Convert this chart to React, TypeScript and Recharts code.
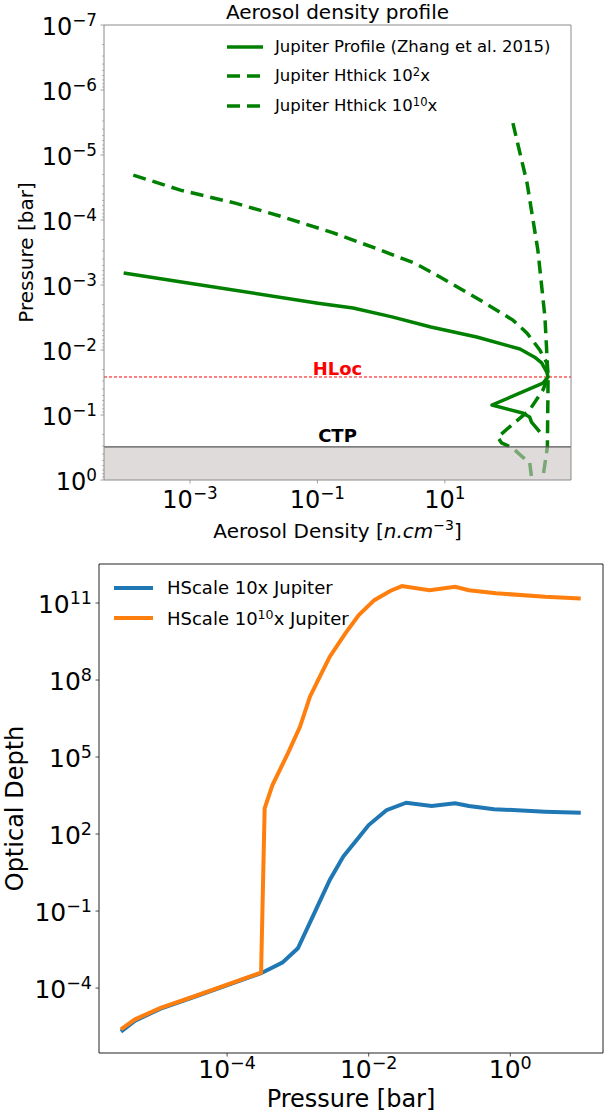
import React from 'react';
import { LineChart, Line, XAxis, YAxis, ReferenceLine, ReferenceArea, Legend } from 'recharts';

const FONT = '"DejaVu Sans", Verdana, sans-serif';
const GREEN = '#008000';
const BLUE = '#1f77b4';
const ORANGE = '#ff7f0e';
const TOP_FRAME = '#8a8a8a';
const BOT_FRAME = '#222222';

// ---------- Top chart: Aerosol density profile ----------
const jupiterDensity = [9.1e-5, 9.3e-4, 0.102, 0.363, 1.48, 6.03, 31.6, 151, 257, 331, 398, 417, 347, 55, 166, 214, 229, 309];
const jupiterPressure = [6.53e-4, 9.3e-4, 1.91e-3, 2.26e-3, 3.09e-3, 4.43e-3, 6.31e-3, 9.66e-3, 0.0129, 0.0158, 0.0219, 0.026, 0.0324, 0.0702, 0.0933, 0.107, 0.129, 0.182];

const hthick2Density = [1.29e-4, 7.08e-4, 5.13e-3, 0.0282, 0.178, 0.841, 3.47, 8.13, 35.5, 117, 195, 309, 398, 417, 347, 214, 112, 67.6, 77.6, 117, 166, 214, 229];
const hthick2Pressure = [2.04e-5, 3.47e-5, 5.5e-5, 8.91e-5, 1.58e-4, 2.75e-4, 4.68e-4, 7.41e-4, 1.7e-3, 3.47e-3, 5.5e-3, 0.01, 0.0158, 0.026, 0.0412, 0.0838, 0.143, 0.219, 0.269, 0.324, 0.443, 0.528, 0.9];

const hthick10Density = [117, 195, 288, 372, 417, 407, 347];
const hthick10Pressure = [3.24e-6, 2.69e-5, 2.88e-4, 3.09e-3, 0.026, 0.309, 0.9];

const HLOC_PRESSURE = 0.026;
const CTP_PRESSURE = 0.31;

const topXTicks = [1e-3, 1e-1, 1e1];
const topXDomain = [4.47e-5, 955];
const topYDomain = [1e-7, 1];

const topLegendLabels = ['Jupiter Profile (Zhang et al. 2015)', 'Jupiter Hthick 10', 'Jupiter Hthick 10'];
const topLegendSups = ['', '2', '10'];
const topLegendSuffix = ['', 'x', 'x'];
const topLegendDash = ['', '13 7', '13 7'];

// ---------- Bottom chart: Optical depth ----------
const pressureBlue = [3.16e-6, 5.01e-6, 1.15e-5, 3.63e-5, 3.02e-4, 6.03e-4, 1e-3, 1.7e-3, 2.82e-3, 4.37e-3, 6.46e-3, 0.01, 0.0178, 0.0339, 0.0776, 0.166, 0.26, 0.589, 3.09, 9.89];
const tauBlue = [2.0e-6, 5.37e-6, 1.58e-5, 4.79e-5, 3.8e-4, 9.77e-4, 3.55e-3, 0.0813, 1.62, 13.2, 50.1, 224, 851, 1660, 1230, 1585, 1230, 933, 741, 676];

const pressureOrange = [3.16e-6, 5.01e-6, 1.15e-5, 3.63e-5, 3.02e-4, 3.39e-4, 4.37e-4, 7.24e-4, 1.07e-3, 1.48e-3, 2.04e-3, 2.82e-3, 4.68e-3, 7.24e-3, 0.012, 0.0204, 0.0295, 0.0724, 0.166, 0.26, 0.631, 3.09, 9.89];
const tauOrange = [2.45e-6, 6.03e-6, 1.7e-5, 5.01e-5, 3.98e-4, 1e3, 8.13e3, 1.41e5, 1.51e6, 2.24e7, 1.35e8, 8.13e8, 6.61e9, 3.39e10, 1.29e11, 3.02e11, 4.57e11, 3.16e11, 4.27e11, 3.16e11, 2.4e11, 1.74e11, 1.51e11];

const botXTicks = [1e-4, 1e-2, 1e0];
const botYTicks = [1e-4, 1e-1, 1e2, 1e5, 1e8, 1e11];
const botXDomain = [1.55e-6, 20.4];
const botYDomain = [2.95e-7, 3.31e12];

const botLegendLabels = ['HScale 10x Jupiter', 'HScale 10'];
const botLegendSups = ['', '10'];
const botLegendSuffix = ['', 'x Jupiter'];
const botLegendColors = [BLUE, ORANGE];

// ---------- build data tables ----------
const zip = (xs: number[], ys: number[], kx: string, ky: string) => xs.map((v, i) => ({ [kx]: v, [ky]: ys[i] }));
const jupiterData = zip(jupiterDensity, jupiterPressure, 'd', 'p');
const hthick2Data = zip(hthick2Density, hthick2Pressure, 'd', 'p');
const hthick10Data = zip(hthick10Density, hthick10Pressure, 'd', 'p');
const blueData = zip(pressureBlue, tauBlue, 'x', 'tau');
const orangeData = zip(pressureOrange, tauOrange, 'x', 'tau');

// major + minor ticks for the top chart's pressure axis (axis decoration only)
const topYTicks: number[] = [];
for (let e = -7; e <= 0; e++) {
  topYTicks.push(Math.pow(10, e));
  if (e < 0) for (let m = 2; m <= 9; m++) topYTicks.push(m * Math.pow(10, e));
}

const expLabel = (v: number) => {
  const e = Math.round(Math.log10(v));
  return e < 0 ? '\u2212' + Math.abs(e) : String(e);
};
const isPow10 = (v: number) => Math.abs(Math.log10(v) - Math.round(Math.log10(v))) < 1e-6;

const makeXTick = (fs: number, color: string, off: number) => (props: any) => {
  const { x, y, payload } = props;
  return (
    <g>
      <line x1={x} x2={x} y1={y} y2={y + 3.5} stroke={color} strokeWidth={0.8} />
      <text x={x} y={y + off} textAnchor="middle" fontSize={fs} fontFamily={FONT} fill="#000">
        10<tspan dy={-0.37 * fs} fontSize={0.7 * fs}>{expLabel(payload.value)}</tspan>
      </text>
    </g>
  );
};

const makeYTick = (fs: number, color: string, gap: number) => (props: any) => {
  const { x, y, payload } = props;
  const major = isPow10(payload.value);
  return (
    <g>
      <line x1={x} x2={x - (major ? 3.5 : 2)} y1={y} y2={y} stroke={color} strokeWidth={major ? 0.8 : 0.6} />
      {major && (
        <text x={x - gap} y={y + 0.4 * fs} textAnchor="end" fontSize={fs} fontFamily={FONT} fill="#000">
          10<tspan dy={-0.37 * fs} fontSize={0.7 * fs}>{expLabel(payload.value)}</tspan>
        </text>
      )}
    </g>
  );
};

const TopXLabel = (props: any) => {
  const vb = props.viewBox || { x: 104, y: 480, width: 467, height: 65 };
  const cx = vb.x + vb.width / 2;
  return (
    <text x={cx} y={538} textAnchor="middle" fontSize={20} fontFamily={FONT} fill="#000">
      Aerosol Density [<tspan fontStyle="italic">n.cm</tspan>
      <tspan dy={-8} fontSize={14}>{'\u22123'}</tspan>
      <tspan dy={8}>]</tspan>
    </text>
  );
};

const TopYLabel = (props: any) => {
  const vb = props.viewBox || { x: 0, y: 25, width: 104, height: 455 };
  const cy = vb.y + vb.height / 2;
  return (
    <text x={33} y={cy} transform={`rotate(-90, 33, ${cy})`} textAnchor="middle" fontSize={20} fontFamily={FONT} fill="#000">
      Pressure [bar]
    </text>
  );
};

const BotXLabel = (props: any) => {
  const vb = props.viewBox || { x: 99, y: 508, width: 504, height: 61 };
  const cx = vb.x + vb.width / 2;
  return (
    <text x={cx} y={562} textAnchor="middle" fontSize={24} fontFamily={FONT} fill="#000">
      Pressure [bar]
    </text>
  );
};

const BotYLabel = (props: any) => {
  const vb = props.viewBox || { x: 0, y: 19, width: 99, height: 489 };
  const cy = vb.y + vb.height / 2;
  return (
    <text x={23} y={cy} transform={`rotate(-90, 23, ${cy})`} textAnchor="middle" fontSize={24} fontFamily={FONT} fill="#000">
      Optical Depth
    </text>
  );
};

const TopLegend = () => (
  <div style={{ fontFamily: FONT, fontSize: 16.5, color: '#000', lineHeight: 1 }}>
    {topLegendLabels.map((lab, i) => (
      <div key={i} style={{ display: 'flex', alignItems: 'center', height: 29.5, whiteSpace: 'nowrap' }}>
        <svg width={36} height={8} style={{ marginRight: 12, flex: 'none' }}>
          <line x1={0} x2={36} y1={4} y2={4} stroke={GREEN} strokeWidth={3.5} strokeDasharray={topLegendDash[i] || undefined} />
        </svg>
        <span>
          {lab}
          {topLegendSups[i] && <span style={{ fontSize: '70%', verticalAlign: '0.45em' }}>{topLegendSups[i]}</span>}
          {topLegendSuffix[i]}
        </span>
      </div>
    ))}
  </div>
);

const BotLegend = () => (
  <div style={{ fontFamily: FONT, fontSize: 18, color: '#000', lineHeight: 1 }}>
    {botLegendLabels.map((lab, i) => (
      <div key={i} style={{ display: 'flex', alignItems: 'center', height: 30, whiteSpace: 'nowrap' }}>
        <svg width={39} height={8} style={{ marginRight: 14, flex: 'none' }}>
          <line x1={0} x2={39} y1={4} y2={4} stroke={botLegendColors[i]} strokeWidth={4} />
        </svg>
        <span>
          {lab}
          {botLegendSups[i] && <span style={{ fontSize: '70%', verticalAlign: '0.45em' }}>{botLegendSups[i]}</span>}
          {botLegendSuffix[i]}
        </span>
      </div>
    ))}
  </div>
);

export default function App() {
  return (
    <div style={{ position: 'absolute', left: 0, top: 0, width: 613, height: 1114, background: '#fff', overflow: 'hidden' }}>
      {/* Top chart */}
      <div style={{ position: 'absolute', left: 0, top: 0 }}>
        <LineChart width={613} height={545} margin={{ top: 25, right: 42, bottom: 0, left: 0 }}>
          <XAxis
            dataKey="d"
            type="number"
            scale="log"
            domain={topXDomain}
            allowDataOverflow
            ticks={topXTicks}
            interval={0}
            tickSize={0}
            tickMargin={0}
            tickLine={false}
            height={65}
            axisLine={{ stroke: TOP_FRAME, strokeWidth: 1 }}
            tick={makeXTick(24, TOP_FRAME, 28)}
            label={<TopXLabel />}
          />
          <YAxis
            dataKey="p"
            type="number"
            scale="log"
            reversed
            domain={topYDomain}
            allowDataOverflow
            ticks={topYTicks}
            interval={0}
            tickSize={0}
            tickMargin={0}
            tickLine={false}
            width={104}
            axisLine={{ stroke: TOP_FRAME, strokeWidth: 1 }}
            tick={makeYTick(24, TOP_FRAME, 7)}
            label={<TopYLabel />}
          />
          <ReferenceLine
            y={HLOC_PRESSURE}
            stroke="#ff0000"
            strokeWidth={1}
            strokeDasharray="3 2"
            label={{ value: 'HLoc', position: 'top', offset: 2, fill: '#ff0000', fontSize: 18, fontWeight: 'bold', fontFamily: FONT }}
          />
          <Line data={jupiterData} dataKey="p" stroke={GREEN} strokeWidth={3.5} dot={false} activeDot={false} isAnimationActive={false} strokeLinejoin="round" />
          <Line data={hthick2Data} dataKey="p" stroke={GREEN} strokeWidth={3.5} strokeDasharray="13 7" dot={false} activeDot={false} isAnimationActive={false} />
          <Line data={hthick10Data} dataKey="p" stroke={GREEN} strokeWidth={3.5} strokeDasharray="13 7" dot={false} activeDot={false} isAnimationActive={false} />
          <ReferenceArea y1={CTP_PRESSURE} y2={1} fill="#cbc3c3" fillOpacity={0.6} stroke="none" zIndex={450} />
          <ReferenceLine
            y={CTP_PRESSURE}
            stroke="#555555"
            strokeWidth={1.2}
            zIndex={460}
            label={{ value: 'CTP', position: 'top', offset: 5, fill: '#000', fontSize: 18, fontWeight: 'bold', fontFamily: FONT }}
          />
          {/* plot frame: top and right spines */}
          <ReferenceLine y={topYDomain[0]} stroke={TOP_FRAME} strokeWidth={1} zIndex={470} />
          <ReferenceLine x={topXDomain[1]} stroke={TOP_FRAME} strokeWidth={1} zIndex={470} />
          <Legend
            layout="vertical"
            align="center"
            verticalAlign="middle"
            content={<TopLegend />}
            wrapperStyle={{ position: 'absolute', left: 227, top: 32, width: 340, height: 90, margin: 0 }}
          />
        </LineChart>
      </div>

      {/* Bottom chart */}
      <div style={{ position: 'absolute', left: 0, top: 545 }}>
        <LineChart width={613} height={569} margin={{ top: 19, right: 10, bottom: 0, left: 0 }}>
          <XAxis
            dataKey="x"
            type="number"
            scale="log"
            domain={botXDomain}
            allowDataOverflow
            ticks={botXTicks}
            interval={0}
            tickSize={0}
            tickMargin={0}
            tickLine={false}
            height={61}
            axisLine={{ stroke: BOT_FRAME, strokeWidth: 1 }}
            tick={makeXTick(25, BOT_FRAME, 25)}
            label={<BotXLabel />}
          />
          <YAxis
            dataKey="tau"
            type="number"
            scale="log"
            domain={botYDomain}
            allowDataOverflow
            ticks={botYTicks}
            interval={0}
            tickSize={0}
            tickMargin={0}
            tickLine={false}
            width={99}
            axisLine={{ stroke: BOT_FRAME, strokeWidth: 1 }}
            tick={makeYTick(25, BOT_FRAME, 7)}
            label={<BotYLabel />}
          />
          <Line data={blueData} dataKey="tau" stroke={BLUE} strokeWidth={4} dot={false} activeDot={false} isAnimationActive={false} />
          <Line data={orangeData} dataKey="tau" stroke={ORANGE} strokeWidth={4} dot={false} activeDot={false} isAnimationActive={false} />
          {/* plot frame: top and right spines */}
          <ReferenceLine y={botYDomain[1]} stroke={BOT_FRAME} strokeWidth={1} />
          <ReferenceLine x={botXDomain[1]} stroke={BOT_FRAME} strokeWidth={1} />
          <Legend
            layout="vertical"
            align="center"
            verticalAlign="middle"
            content={<BotLegend />}
            wrapperStyle={{ position: 'absolute', left: 114, top: 28, width: 300, height: 60, margin: 0 }}
          />
        </LineChart>
      </div>

      {/* Title */}
      <svg width={613} height={30} style={{ position: 'absolute', left: 0, top: 0, pointerEvents: 'none' }}>
        <text x={337.5} y={19} textAnchor="middle" fontSize={20} fontFamily={FONT} fill="#000">
          Aerosol density profile
        </text>
      </svg>
    </div>
  );
}
